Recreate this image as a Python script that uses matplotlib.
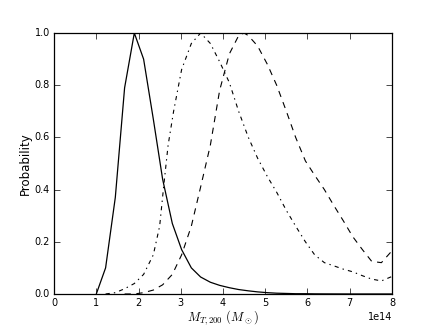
import matplotlib
matplotlib.use("Agg")
import matplotlib.pyplot as plt
import numpy as np

plt.style.use('classic')
plt.rcParams['mathtext.fontset'] = 'cm'
plt.rcParams['font.family'] = ['DejaVu Sans']

# mass grid in units of 1e14 M_sun
mass_solid = [1.0, 1.22, 1.45, 1.67, 1.9, 2.12, 2.35, 2.57, 2.8, 3.02, 3.25, 3.47,
              3.7, 3.92, 4.15, 4.37, 4.6, 4.82, 5.05, 5.27, 5.5, 5.72, 5.95, 6.17,
              6.4, 6.62, 6.85, 7.07, 7.3, 7.52, 7.75, 7.97, 8.2]
prob_solid = [0.0, 0.10, 0.37, 0.79, 1.0, 0.90, 0.67, 0.44, 0.27, 0.17, 0.10, 0.065,
              0.045, 0.033, 0.024, 0.017, 0.012, 0.008, 0.005, 0.003, 0.002, 0.001,
              0.001, 0.0005, 0.0003, 0.0002, 0.0001, 0.0, 0.0, 0.0, 0.0, 0.0, 0.0]

mass_dashdot = [1.22, 1.45, 1.67, 1.9, 2.12, 2.35, 2.5, 2.6, 2.7, 2.83, 3.02, 3.25, 3.47,
                3.7, 3.92, 4.15, 4.37, 4.6, 4.82, 5.05, 5.27, 5.5, 5.72, 5.95, 6.17,
                6.4, 6.62, 6.85, 7.07, 7.3, 7.52, 7.75, 7.97, 8.2]
prob_dashdot = [0.0, 0.005, 0.02, 0.04, 0.075, 0.15, 0.26, 0.42, 0.57, 0.70, 0.86, 0.96, 1.0,
                0.96, 0.89, 0.81, 0.70, 0.60, 0.52, 0.45, 0.39, 0.32, 0.26, 0.20, 0.15,
                0.12, 0.108, 0.095, 0.085, 0.07, 0.057, 0.05, 0.065, 0.08]

mass_dashed = [1.67, 1.9, 2.12, 2.35, 2.57, 2.8, 3.02, 3.25, 3.47, 3.7, 3.92, 4.15,
               4.37, 4.5, 4.6, 4.82, 5.05, 5.27, 5.5, 5.72, 5.95, 6.17, 6.4, 6.62, 6.85,
               7.07, 7.3, 7.52, 7.75, 7.97, 8.2]
prob_dashed = [0.0, 0.0, 0.005, 0.015, 0.035, 0.075, 0.15, 0.26, 0.41, 0.57, 0.78, 0.92,
               0.99, 1.0, 0.99, 0.95, 0.88, 0.80, 0.70, 0.60, 0.51, 0.455, 0.40, 0.34, 0.28,
               0.22, 0.17, 0.125, 0.12, 0.16, 0.21]

scale = 1e14

fig = plt.figure(figsize=(4.36, 3.27), dpi=100, facecolor='white')
ax = fig.add_axes([0.124, 0.101, 0.775, 0.798])

ax.plot(np.array(mass_solid) * scale, prob_solid, color='black', lw=0.9, ls='-')
ax.plot(np.array(mass_dashdot) * scale, prob_dashdot, color='black', lw=0.8,
        ls=(0, (3, 3, 1, 3)))
ax.plot(np.array(mass_dashed) * scale, prob_dashed, color='black', lw=0.8,
        ls=(0, (4.5, 4)))

ax.set_xlim(0, 8e14)
ax.set_ylim(0, 1.0)
ax.set_xticks(np.arange(0, 9) * 1e14)
ax.set_yticks([0.0, 0.2, 0.4, 0.6, 0.8, 1.0])
ax.tick_params(labelsize=7, direction='in', length=4, pad=3)
for sp in ax.spines.values():
    sp.set_linewidth(0.9)
ax.xaxis.get_offset_text().set_fontsize(7)
ax.set_xlabel(r'$M_{T,200}\ (M_\odot)$', fontsize=9, labelpad=0)
ax.set_ylabel('Probability', fontsize=8.5, labelpad=2)

fig.savefig('out.png', dpi=100, facecolor='white')
